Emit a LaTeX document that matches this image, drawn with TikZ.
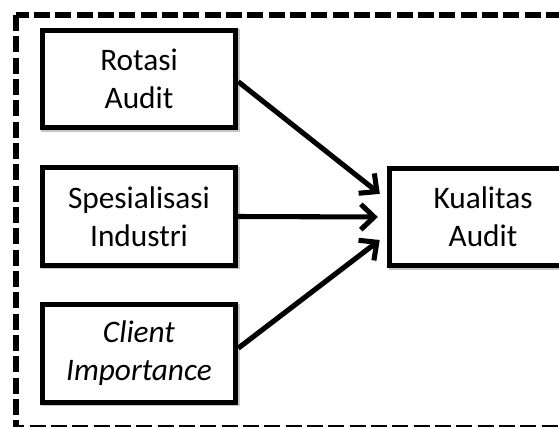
\documentclass[tikz,border=0pt]{standalone}
\usepackage{fontspec}
\setmainfont{Carlito}
\usetikzlibrary{arrows.meta}

\tikzset{
  varbox/.style={draw, line width=3.8pt, fill=white, align=center,
    minimum width=145pt, minimum height=73pt, inner sep=2pt,
    font=\fontsize{23.5}{28.5}\selectfont,
    preaction={draw=gray!45, fill=gray!45,
      transform canvas={shift={(1.2pt,-1.2pt)}}}},
  link/.style={line width=3.8pt, -{Straight Barb[length=10pt,width=19pt]},
    shorten >=7pt,
    preaction={draw=gray!65, transform canvas={shift={(1.3pt,-1.3pt)}}}}
}

\begin{document}
\begin{tikzpicture}[x=0.75pt,y=-0.75pt]
\useasboundingbox (0,0) rectangle (559,426);
\clip (0,0) rectangle (559,426);
% outer frame
\draw [line width=3.8pt, dash pattern=on 12pt off 4pt] (16,15) rectangle (580,428);
\node [varbox] (rot) at (139,79) {Rotasi\\Audit};
\node [varbox] (spe) at (139,216.5) {Spesialisasi\\Industri};
\node [varbox] (cli) at (139,353.5) {\textit{Client}\\\textit{Importance}};
\node [varbox, minimum width=140pt] (kua) at (483,217) {Kualitas\\Audit};
\draw [link] ([yshift=-2pt]rot.east) -- ([yshift=13pt]kua.west);
\draw [link] (spe.east) -- (kua.west);
\draw [link] ([yshift=4pt]cli.east) -- ([yshift=-13pt]kua.west);
\end{tikzpicture}
\end{document}
